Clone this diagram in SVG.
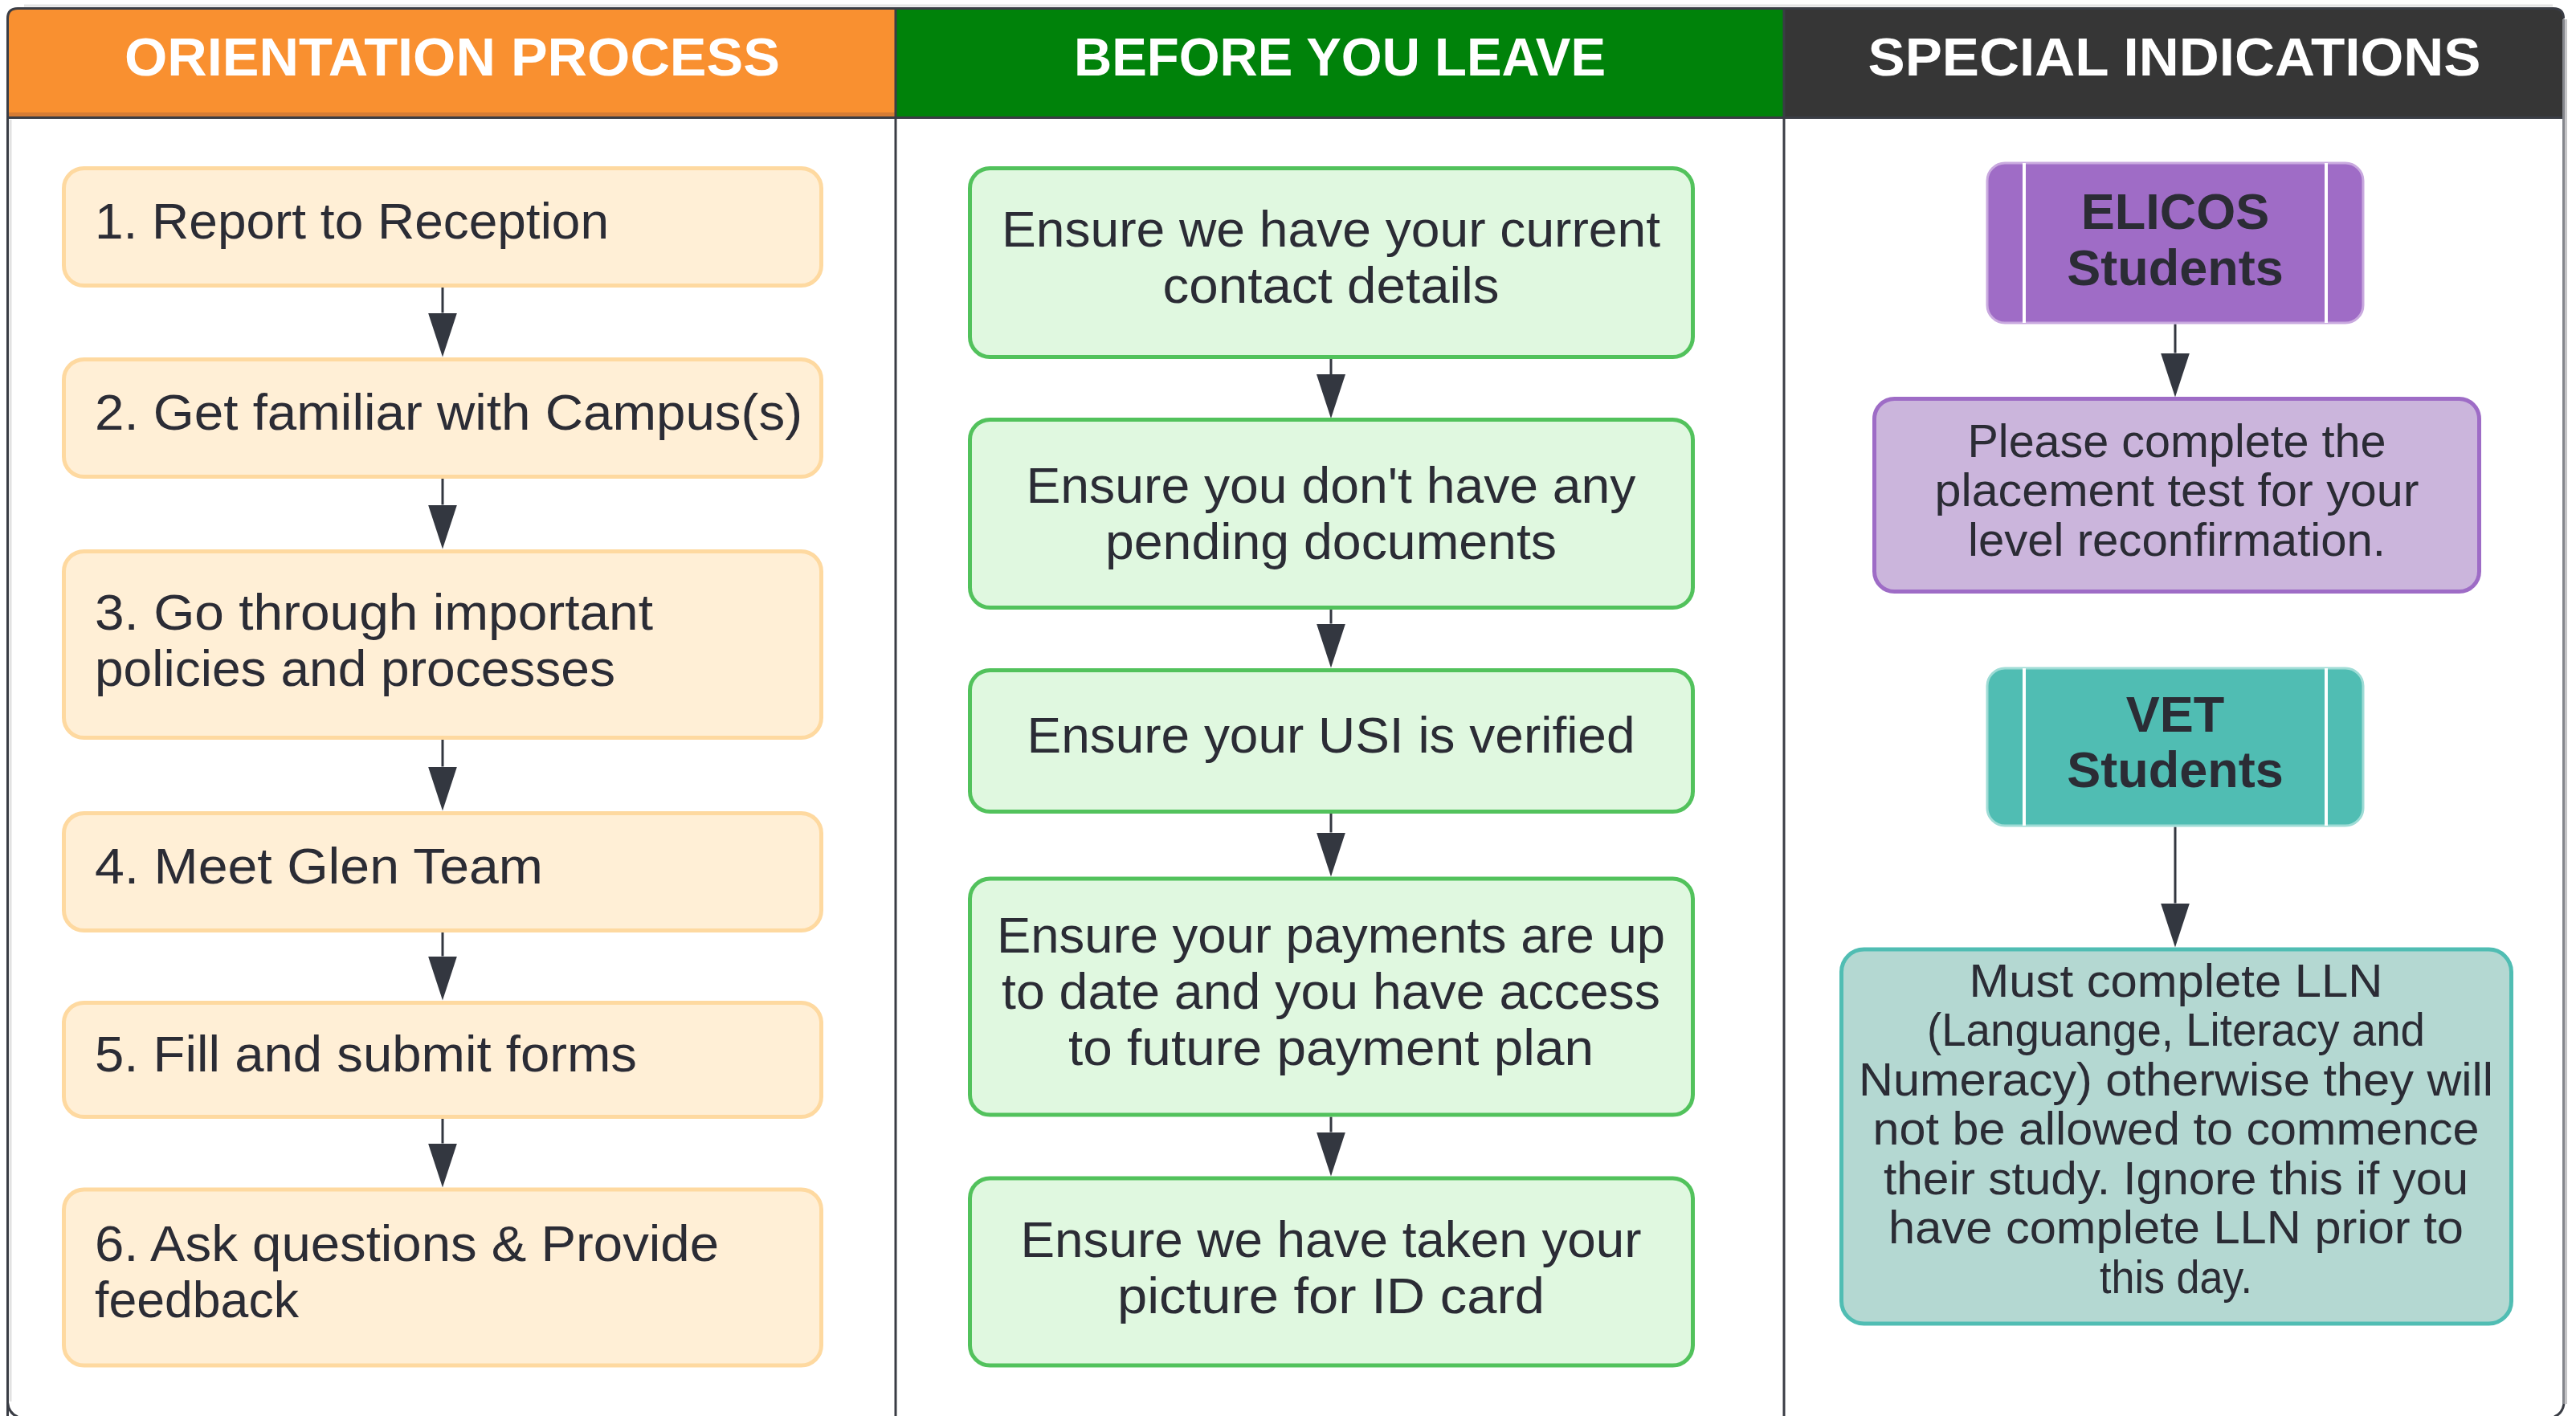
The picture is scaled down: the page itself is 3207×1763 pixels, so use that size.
<svg xmlns="http://www.w3.org/2000/svg" width="3207" height="1763" viewBox="0 0 3207 1763">
  <style>
    .hdr { font-family: "Liberation Sans", Arial, sans-serif; font-weight: bold; font-size: 66px; fill: #ffffff; text-anchor: middle; }
    .txt { font-family: "Liberation Sans", Arial, sans-serif; font-size: 63px; fill: #2b2c35; }
    .mid { text-anchor: middle; }
    .sm { font-size: 57px; }
    .bold { font-weight: bold; font-size: 63px; }
    .orange { fill: #ffefd6; stroke: #fed9a0; stroke-width: 5; }
    .green { fill: #e0f8e0; stroke: #52c25c; stroke-width: 5; }
    .purple-head { fill: #9f6cc6; stroke: #c9a9df; stroke-width: 3; }
    .purple-note { fill: #cbb5dc; stroke: #9e6cc6; stroke-width: 5; }
    .teal-head { fill: #50bdb3; stroke: #9fdcd6; stroke-width: 3; }
    .teal-note { fill: #b4d8d2; stroke: #50bdb3; stroke-width: 5; }
    .sub-line { stroke: #ffffff; stroke-width: 4; }
    .edge { stroke: #333740; stroke-width: 3; fill: none; marker-end: url(#head); }
    .frame { stroke: #3a3d45; stroke-width: 3; fill: none; }
  </style>
  <defs>
    <marker id="head" markerUnits="userSpaceOnUse" markerWidth="56" markerHeight="38" refX="0" refY="18" orient="auto" viewBox="0 0 56 36">
      <path d="M0,0 L55,18 L0,36 Z" fill="#333740"/>
    </marker>
  </defs>

  <!-- page background -->
  <rect x="0" y="0" width="3207" height="1763" fill="#ffffff"/>

  <!-- columns: bodies, headers and frame -->
  <g id="frame">
    <line x1="30" y1="7" x2="3178" y2="7" stroke="#e4e4e4" stroke-width="3"/>
    <rect x="10" y="146" width="3181" height="1640" fill="#ffffff"/>
    <path d="M9.5,146.5 V23 Q9.5,10.5 22,10.5 H1115 V146.5 Z" fill="#f99030"/>
    <rect x="11" y="140" width="1104" height="5" fill="#d67c34"/>
    <rect x="1115" y="10.5" width="1106" height="136" fill="#00820a"/>
    <path d="M2221,10.5 H3179 Q3191.5,10.5 3191.5,23 V146.5 H2221 Z" fill="#363636"/>
    <line x1="13" y1="149" x2="13" y2="1745" stroke="#e2e2e2" stroke-width="3"/>
    <line x1="9.5" y1="146.5" x2="3191.5" y2="146.5" class="frame"/>
    <line x1="1115" y1="10.5" x2="1115" y2="1770" class="frame"/>
    <line x1="2221" y1="10.5" x2="2221" y2="1770" class="frame"/>
    <path d="M9.5,1770 Q9.5,1750 9.5,1748 V23 Q9.5,10.5 22,10.5 H3179 Q3191.5,10.5 3191.5,23" class="frame"/>
    <path d="M9.5,1746 Q11,1760 22,1764" class="frame"/>
    <line x1="3191.5" y1="24" x2="3191.5" y2="1748" stroke="#85878d" stroke-width="3"/>
    <line x1="3194.5" y1="24" x2="3194.5" y2="1748" stroke="#c4c4c6" stroke-width="3"/>
    <path d="M3192,1748 Q3190,1760 3180,1764" stroke="#3a3d45" stroke-width="3" fill="none"/>
    <text class="hdr" x="563" y="94" textLength="816" lengthAdjust="spacingAndGlyphs">ORIENTATION PROCESS</text>
    <text class="hdr" x="1668" y="94" textLength="662" lengthAdjust="spacingAndGlyphs">BEFORE YOU LEAVE</text>
    <text class="hdr" x="2707" y="94" textLength="763" lengthAdjust="spacingAndGlyphs">SPECIAL INDICATIONS</text>
  </g>

  <!-- connectors -->
  <g id="connectors">
    <path class="edge" d="M551,357.5 V389.5"/>
    <path class="edge" d="M551,595.5 V628.5"/>
    <path class="edge" d="M551,920.5 V954.5"/>
    <path class="edge" d="M551,1160.5 V1190.5"/>
    <path class="edge" d="M551,1392.5 V1423.5"/>

    <path class="edge" d="M1657,447 V466"/>
    <path class="edge" d="M1657,758.5 V776.5"/>
    <path class="edge" d="M1657,1012.5 V1036.5"/>
    <path class="edge" d="M1657,1390.5 V1409.5"/>

    <path class="edge" d="M2708,403.5 V439.5"/>
    <path class="edge" d="M2708,1029.5 V1124.5"/>
  </g>

  <!-- orientation process steps -->
  <g id="step1">
    <rect class="orange" x="79.5" y="209.5" width="943" height="146" rx="25"/>
    <text class="txt" x="118" y="297" textLength="640" lengthAdjust="spacingAndGlyphs">1. Report to Reception</text>
  </g>
  <g id="step2">
    <rect class="orange" x="79.5" y="447.5" width="943" height="146" rx="25"/>
    <text class="txt" x="118" y="535" textLength="881" lengthAdjust="spacingAndGlyphs">2. Get familiar with Campus(s)</text>
  </g>
  <g id="step3">
    <rect class="orange" x="79.5" y="686.5" width="943" height="232" rx="25"/>
    <text class="txt" x="118" y="784" textLength="695" lengthAdjust="spacingAndGlyphs">3. Go through important</text>
    <text class="txt" x="118" y="854" textLength="648" lengthAdjust="spacingAndGlyphs">policies and processes</text>
  </g>
  <g id="step4">
    <rect class="orange" x="79.5" y="1012.5" width="943" height="146" rx="25"/>
    <text class="txt" x="118" y="1100" textLength="558" lengthAdjust="spacingAndGlyphs">4. Meet Glen Team</text>
  </g>
  <g id="step5">
    <rect class="orange" x="79.5" y="1248.5" width="943" height="142" rx="25"/>
    <text class="txt" x="118" y="1334" textLength="675" lengthAdjust="spacingAndGlyphs">5. Fill and submit forms</text>
  </g>
  <g id="step6">
    <rect class="orange" x="79.5" y="1481" width="943" height="219" rx="25"/>
    <text class="txt" x="118" y="1570" textLength="777" lengthAdjust="spacingAndGlyphs">6. Ask questions &amp; Provide</text>
    <text class="txt" x="118" y="1640" textLength="254" lengthAdjust="spacingAndGlyphs">feedback</text>
  </g>

  <!-- before you leave checks -->
  <g id="check1">
    <rect class="green" x="1207.5" y="209.5" width="900" height="235" rx="25"/>
    <text class="txt mid" x="1657" y="307" textLength="820" lengthAdjust="spacingAndGlyphs">Ensure we have your current</text>
    <text class="txt mid" x="1657" y="377" textLength="419" lengthAdjust="spacingAndGlyphs">contact details</text>
  </g>
  <g id="check2">
    <rect class="green" x="1207.5" y="522.5" width="900" height="234" rx="25"/>
    <text class="txt mid" x="1657" y="626" textLength="759" lengthAdjust="spacingAndGlyphs">Ensure you don't have any</text>
    <text class="txt mid" x="1657" y="696" textLength="562" lengthAdjust="spacingAndGlyphs">pending documents</text>
  </g>
  <g id="check3">
    <rect class="green" x="1207.5" y="834.5" width="900" height="176" rx="25"/>
    <text class="txt mid" x="1657" y="937" textLength="757" lengthAdjust="spacingAndGlyphs">Ensure your USI is verified</text>
  </g>
  <g id="check4">
    <rect class="green" x="1207.5" y="1094" width="900" height="294" rx="25"/>
    <text class="txt mid" x="1657" y="1186" textLength="832" lengthAdjust="spacingAndGlyphs">Ensure your payments are up</text>
    <text class="txt mid" x="1657" y="1256" textLength="820" lengthAdjust="spacingAndGlyphs">to date and you have access</text>
    <text class="txt mid" x="1657" y="1326" textLength="654" lengthAdjust="spacingAndGlyphs">to future payment plan</text>
  </g>
  <g id="check5">
    <rect class="green" x="1207.5" y="1467" width="900" height="233" rx="25"/>
    <text class="txt mid" x="1657" y="1565" textLength="773" lengthAdjust="spacingAndGlyphs">Ensure we have taken your</text>
    <text class="txt mid" x="1657" y="1635" textLength="532" lengthAdjust="spacingAndGlyphs">picture for ID card</text>
  </g>

  <!-- special indications -->
  <g id="elicos">
    <rect class="purple-head" x="2474" y="203" width="468" height="199" rx="22"/>
    <line class="sub-line" x1="2520" y1="203" x2="2520" y2="402"/>
    <line class="sub-line" x1="2896" y1="203" x2="2896" y2="402"/>
    <text class="txt bold mid" x="2708" y="285">ELICOS</text>
    <text class="txt bold mid" x="2708" y="355">Students</text>
  </g>
  <g id="elicos-note">
    <rect class="purple-note" x="2333.5" y="496.5" width="753" height="240" rx="25"/>
    <text class="txt sm mid" x="2710" y="569" textLength="521" lengthAdjust="spacingAndGlyphs">Please complete the</text>
    <text class="txt sm mid" x="2710" y="630" textLength="603" lengthAdjust="spacingAndGlyphs">placement test for your</text>
    <text class="txt sm mid" x="2710" y="692" textLength="520" lengthAdjust="spacingAndGlyphs">level reconfirmation.</text>
  </g>
  <g id="vet">
    <rect class="teal-head" x="2474" y="832" width="468" height="196" rx="22"/>
    <line class="sub-line" x1="2520" y1="832" x2="2520" y2="1028"/>
    <line class="sub-line" x1="2896" y1="832" x2="2896" y2="1028"/>
    <text class="txt bold mid" x="2708" y="911">VET</text>
    <text class="txt bold mid" x="2708" y="980">Students</text>
  </g>
  <g id="vet-note">
    <rect class="teal-note" x="2292.5" y="1182" width="834" height="466" rx="28"/>
    <text class="txt sm mid" x="2709" y="1241" textLength="515" lengthAdjust="spacingAndGlyphs">Must complete LLN</text>
    <text class="txt sm mid" x="2709" y="1302" textLength="620" lengthAdjust="spacingAndGlyphs">(Languange, Literacy and</text>
    <text class="txt sm mid" x="2709" y="1364" textLength="790" lengthAdjust="spacingAndGlyphs">Numeracy) otherwise they will</text>
    <text class="txt sm mid" x="2709" y="1425" textLength="755" lengthAdjust="spacingAndGlyphs">not be allowed to commence</text>
    <text class="txt sm mid" x="2709" y="1487" textLength="728" lengthAdjust="spacingAndGlyphs">their study. Ignore this if you</text>
    <text class="txt sm mid" x="2709" y="1548" textLength="716" lengthAdjust="spacingAndGlyphs">have complete LLN prior to</text>
    <text class="txt sm mid" x="2709" y="1610" textLength="190" lengthAdjust="spacingAndGlyphs">this day.</text>
  </g>
</svg>
